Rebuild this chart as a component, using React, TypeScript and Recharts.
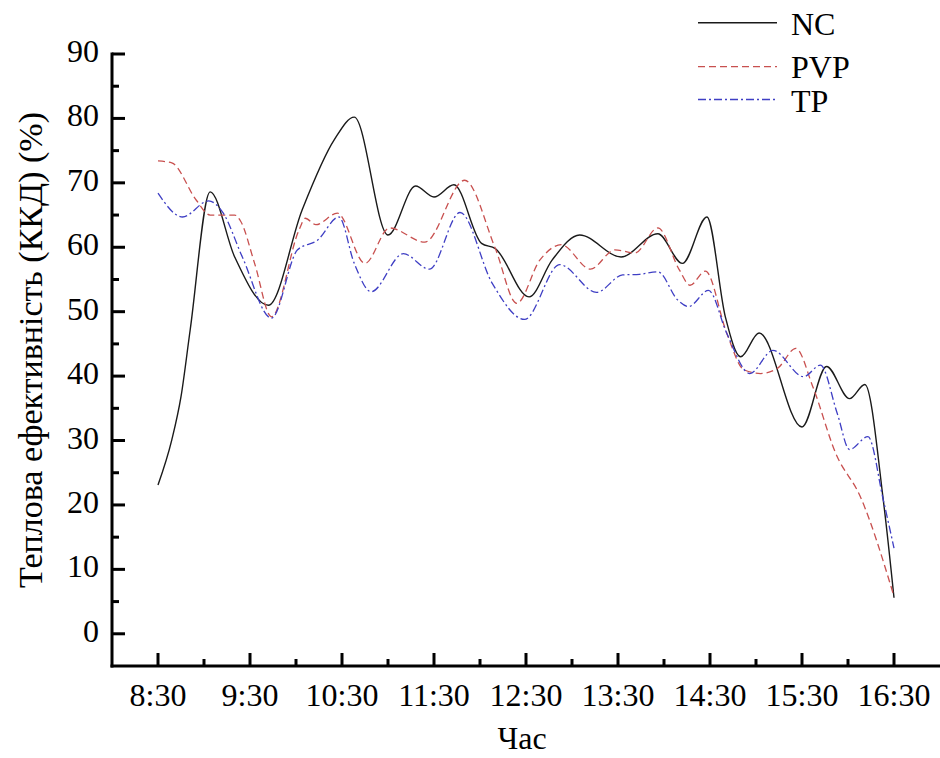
import React from 'react';
import { LineChart, Line, XAxis, YAxis, Legend } from 'recharts';

const FONT = "'Liberation Serif', 'Times New Roman', Times, serif";

// X tick labels (hours); series times are minutes since midnight
const xTickLabels = ['8:30', '9:30', '10:30', '11:30', '12:30', '13:30', '14:30', '15:30', '16:30'];
const yTickLabels = [0, 10, 20, 30, 40, 50, 60, 70, 80, 90];

// NC series
const ncTimes = [510, 519, 525, 531, 544, 560, 582, 604, 625, 638, 660, 678, 690, 703, 721, 730, 752, 767, 785, 812, 836, 852, 868, 880, 890, 902, 930, 946, 961, 971, 983, 990];
const ncValues = [23.1, 30.1, 36.8, 47.2, 68.6, 58.5, 51.0, 65.8, 76.7, 80.2, 61.9, 69.5, 67.8, 69.7, 60.6, 59.8, 52.3, 58.0, 61.9, 58.5, 62.1, 57.5, 64.7, 49.2, 43.0, 46.7, 32.1, 41.5, 36.5, 38.7, 20.8, 5.6];

// PVP series
const pvpTimes = [510, 519, 535, 544, 560, 564, 573, 584, 602, 606, 613, 627, 645, 661, 684, 710, 730, 744, 759, 773, 792, 808, 821, 836, 850, 857, 867, 881, 892, 903, 914, 926, 937, 952, 968, 990];
const pvpValues = [73.4, 73.1, 67.3, 65.0, 65.0, 64.0, 57.5, 49.2, 62.7, 64.5, 63.5, 65.3, 57.5, 63.0, 60.8, 70.4, 59.8, 51.3, 58.0, 60.4, 56.6, 59.6, 59.1, 63.0, 56.5, 54.1, 56.3, 46.6, 41.0, 40.4, 41.2, 44.3, 38.4, 28.0, 21.3, 5.8];

// TP series
const tpTimes = [510, 526, 543, 552, 565, 584, 601, 614, 628, 638, 649, 670, 687, 707, 728, 749, 772, 796, 813, 824, 836, 849, 856, 869, 881, 896, 911, 931, 942, 953, 961, 973, 983, 990];
const tpValues = [68.4, 64.7, 67.2, 65.5, 58.5, 49.0, 59.6, 61.1, 64.7, 57.5, 53.1, 59.0, 56.6, 65.4, 54.4, 48.8, 57.3, 53.0, 55.7, 55.8, 56.2, 51.8, 50.8, 53.3, 46.6, 40.4, 44.0, 39.9, 41.7, 34.2, 28.6, 30.6, 20.8, 13.3];

const seriesNames = ['NC', 'PVP', 'TP'];

const toMin = (s: string) => {
  const [h, m] = s.split(':').map(Number);
  return h * 60 + m;
};
const majorTicks = xTickLabels.map(toMin);
const minorTicks = majorTicks.slice(0, -1).map((t) => t + 30);
const xTicks = [...majorTicks, ...minorTicks].sort((a, b) => a - b);
const yTicks: number[] = [];
yTickLabels.forEach((v, i) => {
  yTicks.push(v);
  if (i < yTickLabels.length - 1) yTicks.push(v + 5);
});

const build = (times: number[], values: number[]) => times.map((t, i) => ({ t, v: values[i] }));
const ncData = build(ncTimes, ncValues);
const pvpData = build(pvpTimes, pvpValues);
const tpData = build(tpTimes, tpValues);

const styles = [
  { color: '#1a1a1a', dash: undefined as string | undefined, width: 1.4 },
  { color: '#c8504f', dash: '7 4', width: 1.3 },
  { color: '#3f3fc4', dash: '8 3 2 3', width: 1.3 },
];

const XTick = (props: any) => {
  const { x, y, payload } = props;
  const idx = majorTicks.indexOf(payload.value);
  const major = idx >= 0;
  return (
    <g>
      <line x1={x} x2={x} y1={y} y2={y - (major ? 13 : 7)} stroke="#000" strokeWidth={3} />
      {major && (
        <text x={x} y={y + 40} textAnchor="middle" fontFamily={FONT} fontSize={32} fill="#000">
          {xTickLabels[idx]}
        </text>
      )}
    </g>
  );
};

const YTick = (props: any) => {
  const { x, y, payload } = props;
  const major = yTickLabels.includes(payload.value);
  return (
    <g>
      <line x1={x} x2={x + (major ? 13 : 7)} y1={y} y2={y} stroke="#000" strokeWidth={3} />
      {major && (
        <text x={x - 13} y={y + 8} textAnchor="end" fontFamily={FONT} fontSize={32} fill="#000">
          {payload.value}
        </text>
      )}
    </g>
  );
};

const renderLegend = () => {
  const lineYs = [22.7, 66.7, 99.5];
  const textYs = [35, 77.5, 111.5];
  return (
    <svg width={940} height={130} style={{ position: 'absolute', left: 0, top: 0 }}>
      {seriesNames.map((n, i) => (
        <g key={n}>
          <line x1={698} x2={777} y1={lineYs[i]} y2={lineYs[i]} stroke={styles[i].color} strokeWidth={styles[i].width} strokeDasharray={styles[i].dash} />
          <text x={791} y={textYs[i]} fontFamily={FONT} fontSize={32} fill="#000">{n}</text>
        </g>
      ))}
    </svg>
  );
};

export default function App() {
  return (
    <div style={{ position: 'absolute', left: 0, top: 0, width: 940, height: 758, background: '#fff' }}>
      <LineChart width={940} height={758} margin={{ top: 54, right: 0, bottom: 0, left: 0 }}>
        <XAxis
          dataKey="t"
          type="number"
          domain={[480, 1020]}
          ticks={xTicks}
          interval={0}
          tickSize={0}
          tickMargin={0}
          tickLine={false}
          tick={<XTick />}
          height={92}
          axisLine={{ stroke: '#000', strokeWidth: 3, strokeLinecap: 'square' }}
          label={{
            content: () => (
              <text x={522} y={749} textAnchor="middle" fontFamily={FONT} fontSize={32} fill="#000">Час</text>
            ),
          }}
        />
        <YAxis
          type="number"
          domain={[-5, 90]}
          ticks={yTicks}
          interval={0}
          tickSize={0}
          tickMargin={0}
          tickLine={false}
          tick={<YTick />}
          width={112}
          axisLine={{ stroke: '#000', strokeWidth: 3, strokeLinecap: 'square' }}
          label={{
            content: () => (
              <text transform="translate(42,350) rotate(-90)" textAnchor="middle" fontFamily={FONT} fontSize={34} fill="#000">
                Теплова ефективність (ККД) (%)
              </text>
            ),
          }}
        />
        <Legend layout="horizontal" verticalAlign="middle" align="center" wrapperStyle={{ top: 0, left: 0, width: 940, height: 130 }} content={renderLegend} />
        <Line data={ncData} dataKey="v" name={seriesNames[0]} type="monotone" stroke={styles[0].color} strokeWidth={styles[0].width} dot={false} activeDot={false} isAnimationActive={false} />
        <Line data={pvpData} dataKey="v" name={seriesNames[1]} type="monotone" stroke={styles[1].color} strokeWidth={styles[1].width} strokeDasharray={styles[1].dash} dot={false} activeDot={false} isAnimationActive={false} />
        <Line data={tpData} dataKey="v" name={seriesNames[2]} type="monotone" stroke={styles[2].color} strokeWidth={styles[2].width} strokeDasharray={styles[2].dash} dot={false} activeDot={false} isAnimationActive={false} />
      </LineChart>
    </div>
  );
}
